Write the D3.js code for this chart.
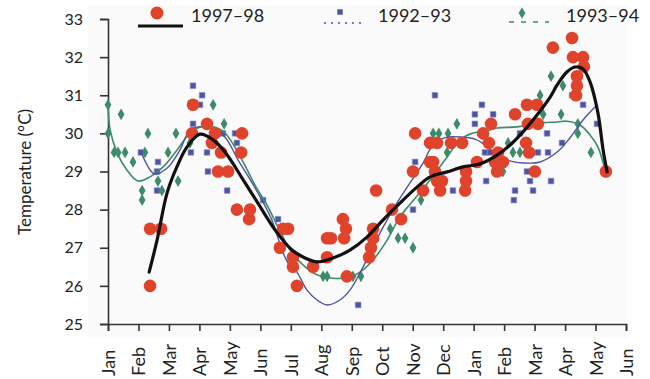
<!DOCTYPE html>
<html>
<head>
<meta charset="utf-8">
<script src="https://cdn.jsdelivr.net/npm/d3@7"></script>
<style>
  body { margin: 0; background: #fff; }
  svg text { font-family: Lato, "Open Sans", sans-serif; fill: #222; }
</style>
</head>
<body>
<svg id="chart" width="650" height="379"></svg>
<script>
// month ticks, Jan of first year = 0 ... Jun of following year = 17
const months = ["Jan","Feb","Mar","Apr","May","Jun","Jul","Aug","Sep","Oct","Nov","Dec",
                "Jan","Feb","Mar","Apr","May","Jun"];
const tempTicks = [25, 26, 27, 28, 29, 30, 31, 32, 33];

// 1997-98 observations [month, °C]
const obs9798 = [
  [1.38,27.5],[1.74,27.5],[1.38,26],[2.79,30.75],[2.76,30],[3.25,30.25],[3.51,30],[3.41,29.75],
  [3.71,29.5],[3.61,29],[3.94,29],[4.40,30],[4.37,29.5],[4.23,28],[4.66,28],[4.63,27.75],
  [5.74,27.5],[5.91,27.5],[5.64,27],[6.07,26.75],[6.07,26.5],[6.20,26],[6.73,26.5],
  [7.19,27.25],[7.32,27.25],[7.19,26.75],[7.71,27.75],[7.81,27.5],[7.75,27.25],[7.84,26.25],
  [8.80,28.5],[8.70,27.5],[8.70,27.25],[8.63,27],[8.57,26.75],[9.32,28],[9.62,27.75],
  [10.01,29],[10.34,28.5],[10.08,30],[10.57,29.75],[10.80,29.75],[11.26,29.75],[11.62,29.75],
  [10.57,29.25],[10.67,29.25],[10.73,29],[10.80,28.75],[10.96,28.75],[10.90,28.5],
  [11.75,29],[11.75,28.75],[11.72,28.5],[12.31,30],[12.57,30.25],[12.50,29.75],[12.80,29.5],
  [12.11,29.25],[12.70,29.25],[12.96,29.25],[12.77,29],[13.36,30.5],[13.75,30.75],[14.08,30.75],
  [13.78,30.25],[14.11,30.25],[13.72,29.75],[13.82,29.5],[14.01,29],[14.60,32.25],[15.23,32.5],
  [15.26,32],[15.59,32],[15.62,31.75],[15.39,31.5],[15.39,31.25],[15.36,31],[16.34,29]
];

// 1997-98 trend line
const trend9798 = [
  [1.35,26.36],[1.61,27.2],[1.94,28.44],[2.26,29.12],[2.59,29.64],[3.02,29.98],[3.45,29.83],
  [3.84,29.51],[4.50,28.7],[4.92,28.17],[5.48,27.47],[6.04,26.94],[6.47,26.73],[6.86,26.63],
  [7.38,26.73],[7.94,26.94],[8.50,27.28],[9.03,27.73],[9.58,28.17],[10.14,28.59],[10.57,28.86],
  [11.13,28.99],[11.65,29.12],[12.21,29.2],[12.77,29.43],[13.19,29.69],[13.62,30.04],
  [14.08,30.48],[14.51,30.95],[14.74,31.27],[15.06,31.61],[15.33,31.74],[15.59,31.69],
  [15.82,31.35],[16.08,30.53],[16.25,29.56],[16.38,28.99]
];

// 1992-93 observations
const obs9293 = [
  [1.08,29.5],[1.64,29.25],[1.61,29],[1.61,28.5],[2.79,31.25],[3.09,31],[3.02,30.75],[2.79,30.25],
  [2.72,29.5],[3.25,29.5],[3.28,29],[3.77,30],[4.17,30],[4.23,29.75],[3.91,28.5],[5.09,28.25],
  [5.58,27.75],[8.21,25.5],[10.01,28],[10.08,29.25],[10.73,31],[11.32,28.5],[12.27,30.75],
  [12.04,30.5],[12.64,30.5],[12.04,30.25],[12.37,29.5],[12.54,29.5],[13.52,30],[14.41,30],
  [14.11,29.5],[14.44,29.5],[14.90,29.75],[15.59,30.75],[16.05,30.25],[15.23,31],[13.75,29],
  [13.85,28.75],[14.54,28.75],[13.36,28.5],[13.95,28.5],[13.32,28.25],[12.41,28.75]
];

// 1992-93 running line
const trend9293 = [
  [1.08,29.51],[1.38,29.04],[1.54,28.93],[1.94,29.09],[2.36,29.56],[2.69,30.09],[3.02,30.17],
  [3.45,30.09],[3.84,29.9],[4.27,29.3],[4.73,28.7],[5.05,28.25],[5.38,27.73],[5.71,26.94],
  [5.91,26.6],[6.2,26.36],[6.53,25.89],[6.86,25.63],[7.19,25.5],[7.61,25.63],[7.94,25.89],
  [8.27,26.34],[8.70,27.02],[9.03,27.54],[9.48,28.17],[9.91,28.7],[10.34,29.22],[10.67,29.7],
  [11.13,29.9],[11.65,29.9],[12.04,29.85],[12.37,29.7],[12.64,29.51],[13.19,29.28],
  [13.85,29.22],[14.18,29.25],[14.74,29.51],[15.16,29.88],[15.59,30.35],[15.98,30.69]
];

// 1993-94 observations
const obs9394 = [
  [0,30.75],[0,30],[0.43,30.5],[0.2,29.5],[0.33,29.5],[0.56,29.5],[0.82,29.25],[1.21,29.5],
  [1.31,30],[1.12,28.5],[1.12,28.25],[1.64,28.75],[1.77,28.5],[2.30,28.75],[1.97,29.5],
  [2.23,30],[2.69,29.75],[3.45,30.75],[3.81,30.25],[7.06,26.25],[7.19,26.25],[8.04,26.25],
  [8.30,26.25],[9.26,27.5],[9.52,27.25],[9.75,27.25],[10.01,27],[10.27,28.25],[10.67,30],
  [10.86,30],[11.16,30],[11.45,30.25],[11.13,29.5],[13.13,29.75],[13.29,29.5],[13.52,29.5],
  [12.96,29],[14.18,31],[14.54,31.5],[14.93,31.25],[14.28,30.5],[14.87,30.5],[15.42,30.25],
  [15.42,30],[15.85,29.5]
];

// 1993-94 running line
const trend9394 = [
  [0,30.72],[0.07,30.09],[0.3,29.49],[0.62,29.04],[0.98,28.75],[1.38,28.86],[1.81,29.12],
  [2.26,29.56],[2.69,30.01],[3.02,30.17],[3.45,30.17],[3.84,30.01],[4.4,29.3],[4.82,28.65],
  [5.25,28.07],[5.58,27.54],[6.04,26.86],[6.47,26.5],[6.86,26.29],[7.38,26.2],[7.94,26.23],
  [8.27,26.36],[8.70,26.68],[9.16,27.2],[9.58,27.81],[10.01,28.23],[10.57,28.78],[11.13,29.38],
  [11.55,29.83],[11.98,30.01],[12.31,30.04],[12.77,30.14],[13.42,30.17],[14.08,30.27],
  [14.74,30.3],[15.06,30.32],[15.49,30.22],[15.82,29.96],[16.08,29.64],[16.31,29.04]
];

const red = "#e0432b", blue = "#4f54a0", green = "#3d8b6b";

const svg = d3.select("#chart");

// faint plot panel
svg.append("rect")
  .attr("x", 88).attr("y", 5)
  .attr("width", 539).attr("height", 333)
  .attr("fill", "#fafafa");

const x = d3.scaleLinear().domain([0, 17]).range([108, 626]);
const y = d3.scaleLinear().domain([25, 33]).range([324, 19]);

// y axis
const yAxis = svg.append("g")
  .attr("transform", "translate(108,0)")
  .call(d3.axisLeft(y).tickValues(tempTicks).tickSize(8).tickPadding(17).tickFormat(d3.format("d")));
yAxis.selectAll("text").style("font-size", "16px");

// x axis, labels sit on a common bottom line
const xAxis = svg.append("g")
  .attr("transform", "translate(0,324)")
  .call(d3.axisBottom(x).tickValues(d3.range(months.length)).tickSize(7).tickFormat((d, i) => months[i]));
xAxis.selectAll("text")
  .attr("transform", "rotate(-90)")
  .attr("x", -52)
  .attr("y", 0)
  .attr("dy", "0.36em")
  .style("text-anchor", "start")
  .style("font-size", "18px");

svg.selectAll(".domain, .tick line").attr("stroke", "#333").attr("stroke-width", 1.6);

svg.append("text")
  .attr("transform", "translate(31,172) rotate(-90)")
  .attr("text-anchor", "middle")
  .style("font-size", "17px")
  .text("Temperature (°C)");

const line = d3.line()
  .x(d => x(d[0]))
  .y(d => y(d[1]))
  .curve(d3.curveCatmullRom.alpha(0.5));

// green diamonds
svg.append("g").selectAll("path")
  .data(obs9394)
  .enter()
  .append("path")
  .attr("d", d3.symbol().type(d3.symbolDiamond).size(40))
  .attr("transform", d => "translate(" + x(d[0]) + "," + y(d[1]) + ")")
  .attr("fill", green);

// blue squares
svg.append("g").selectAll("path")
  .data(obs9293)
  .enter()
  .append("path")
  .attr("d", d3.symbol().type(d3.symbolSquare).size(32))
  .attr("transform", d => "translate(" + x(d[0]) + "," + y(d[1]) + ")")
  .attr("fill", blue)
  .attr("stroke", "#8c90c8")
  .attr("stroke-width", 0.6);

svg.append("path").datum(trend9394)
  .attr("d", line).attr("fill", "none")
  .attr("stroke", green).attr("stroke-width", 1.6);

svg.append("path").datum(trend9293)
  .attr("d", line).attr("fill", "none")
  .attr("stroke", blue).attr("stroke-width", 1.4);

// red circles
svg.append("g").selectAll("circle")
  .data(obs9798)
  .enter()
  .append("circle")
  .attr("cx", d => x(d[0]))
  .attr("cy", d => y(d[1]))
  .attr("r", 6.3)
  .attr("fill", red);

svg.append("path").datum(trend9798)
  .attr("d", line).attr("fill", "none")
  .attr("stroke", "#111").attr("stroke-width", 3.2)
  .attr("stroke-linecap", "round");

// legend
const legend = svg.append("g");
legend.append("circle").attr("cx", 157).attr("cy", 13).attr("r", 6.5).attr("fill", red);
legend.append("line").attr("x1", 138).attr("x2", 183).attr("y1", 26).attr("y2", 26)
  .attr("stroke", "#111").attr("stroke-width", 3.2);
legend.append("text").attr("x", 191).attr("y", 22).style("font-size", "18px").text("1997–98");

legend.append("line").attr("x1", 324).attr("x2", 365).attr("y1", 23).attr("y2", 23)
  .attr("stroke", blue).attr("stroke-width", 1.6).attr("stroke-dasharray", "2,5");
legend.append("path").attr("d", d3.symbol().type(d3.symbolSquare).size(30))
  .attr("transform", "translate(340,12)").attr("fill", blue);
legend.append("text").attr("x", 378).attr("y", 22).style("font-size", "18px").text("1992–93");

legend.append("line").attr("x1", 509).attr("x2", 549).attr("y1", 22).attr("y2", 22)
  .attr("stroke", green).attr("stroke-width", 1.6).attr("stroke-dasharray", "5,7");
legend.append("path").attr("d", d3.symbol().type(d3.symbolDiamond).size(38))
  .attr("transform", "translate(522,13)").attr("fill", green);
legend.append("text").attr("x", 566).attr("y", 22).style("font-size", "18px").text("1993–94");
</script>
</body>
</html>
